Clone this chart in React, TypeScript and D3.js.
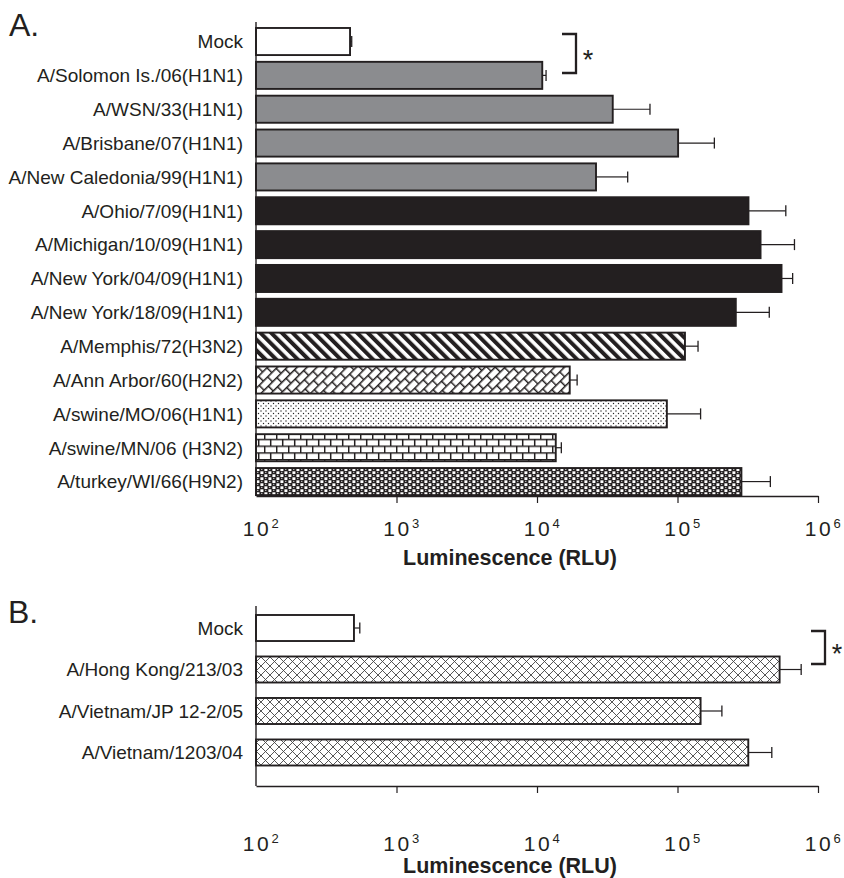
import { useEffect, useRef } from "react";
import * as d3 from "d3";

// Panel A strains and luminescence (RLU)
const strainsA = [
  "Mock",
  "A/Solomon Is./06(H1N1)",
  "A/WSN/33(H1N1)",
  "A/Brisbane/07(H1N1)",
  "A/New Caledonia/99(H1N1)",
  "A/Ohio/7/09(H1N1)",
  "A/Michigan/10/09(H1N1)",
  "A/New York/04/09(H1N1)",
  "A/New York/18/09(H1N1)",
  "A/Memphis/72(H3N2)",
  "A/Ann Arbor/60(H2N2)",
  "A/swine/MO/06(H1N1)",
  "A/swine/MN/06 (H3N2)",
  "A/turkey/WI/66(H9N2)",
];
const meansA = [467, 10900, 34600, 101000, 26300, 320000, 390000, 550000, 260000, 113000, 17100, 84000, 13600, 285000];
const errA = [13, 700, 29100, 82000, 17900, 270000, 290000, 110000, 190000, 27000, 2200, 62000, 1300, 173000];
const groupsA = [
  "mock", "seasonal", "seasonal", "seasonal", "seasonal",
  "pandemic", "pandemic", "pandemic", "pandemic",
  "memphis", "annarbor", "swineMO", "swineMN", "turkey",
];

// Panel B: H5N1 strains
const strainsB = ["Mock", "A/Hong Kong/213/03", "A/Vietnam/JP 12-2/05", "A/Vietnam/1203/04"];
const meansB = [498, 533000, 146000, 319000];
const errB = [50, 226000, 61000, 150000];
const groupsB = ["mock", "h5", "h5", "h5"];

const tickValues = [1e2, 1e3, 1e4, 1e5, 1e6];
const tickExponents = ["2", "3", "4", "5", "6"];
const xTitle = "Luminescence (RLU)";

const INK = "#231f20";
const FONT = "'Liberation Sans', Arial, Helvetica, sans-serif";

const fills: Record<string, string> = {
  mock: "#ffffff",
  seasonal: "#8b8c8f",
  pandemic: INK,
  memphis: "url(#pStripe)",
  annarbor: "url(#pDiagBrick)",
  swineMO: "url(#pDots)",
  swineMN: "url(#pBrick)",
  turkey: "url(#pChecker)",
  h5: "url(#pCross)",
};

const App = () => {
  const svgRef = useRef<SVGSVGElement>(null);
  const width = 844;
  const height = 878;

  useEffect(() => {
    const svg = d3.select(svgRef.current);
    svg.selectAll("*").remove();

    // ---- patterns
    const defs = svg.append("defs");

    const stripe = defs.append("pattern").attr("id", "pStripe")
      .attr("patternUnits", "userSpaceOnUse").attr("width", 7.6).attr("height", 7.6)
      .attr("patternTransform", "rotate(-45)");
    stripe.append("rect").attr("width", 7.6).attr("height", 7.6).attr("fill", "#fff");
    stripe.append("rect").attr("width", 4).attr("height", 7.6).attr("fill", INK);

    const db = defs.append("pattern").attr("id", "pDiagBrick")
      .attr("patternUnits", "userSpaceOnUse").attr("width", 12).attr("height", 14)
      .attr("patternTransform", "rotate(-45)");
    db.append("rect").attr("width", 12).attr("height", 14).attr("fill", "#fff");
    db.append("path")
      .attr("d", "M0,0.7H12M0,7.7H12M0.7,0V7M6.7,7V14")
      .attr("stroke", INK).attr("stroke-width", 1.5).attr("fill", "none");

    const dots = defs.append("pattern").attr("id", "pDots")
      .attr("patternUnits", "userSpaceOnUse").attr("width", 5).attr("height", 5);
    dots.append("rect").attr("width", 5).attr("height", 5).attr("fill", "#fff");
    dots.append("rect").attr("x", 0.4).attr("y", 0.4).attr("width", 1.2).attr("height", 1.2).attr("fill", "#222");
    dots.append("rect").attr("x", 2.9).attr("y", 2.9).attr("width", 1.2).attr("height", 1.2).attr("fill", "#222");

    const brick = defs.append("pattern").attr("id", "pBrick")
      .attr("patternUnits", "userSpaceOnUse").attr("width", 12).attr("height", 13.5);
    brick.append("rect").attr("width", 12).attr("height", 13.5).attr("fill", "#fff");
    brick.append("path")
      .attr("d", "M0,0.7H12M0,7.45H12M0.7,0V6.75M6.7,6.75V13.5")
      .attr("stroke", INK).attr("stroke-width", 1.5).attr("fill", "none");

    const checker = defs.append("pattern").attr("id", "pChecker")
      .attr("patternUnits", "userSpaceOnUse").attr("width", 8).attr("height", 6);
    checker.append("rect").attr("width", 8).attr("height", 6).attr("fill", INK);
    checker.append("rect").attr("x", 0.4).attr("y", 0.3).attr("width", 3).attr("height", 2.7).attr("fill", "#fff");
    checker.append("rect").attr("x", 4.4).attr("y", 3.3).attr("width", 3).attr("height", 2.7).attr("fill", "#fff");
    checker.append("rect").attr("x", 5).attr("y", 0.8).attr("width", 1.4).attr("height", 1.2).attr("fill", "#b0b0b0");
    checker.append("rect").attr("x", 1).attr("y", 3.8).attr("width", 1.4).attr("height", 1.2).attr("fill", "#b0b0b0");

    const cross = defs.append("pattern").attr("id", "pCross")
      .attr("patternUnits", "userSpaceOnUse").attr("width", 9).attr("height", 9);
    cross.append("rect").attr("width", 9).attr("height", 9).attr("fill", "#fff");
    cross.append("path")
      .attr("d", "M0,0L9,9M9,0L0,9")
      .attr("stroke", "#444").attr("stroke-width", 0.9).attr("fill", "none");

    const x = d3.scaleLog().domain([1e2, 1e6]).range([256, 818]);

    const drawPanel = (
      strains: string[], means: number[], errs: number[], groups: string[],
      y: d3.ScaleBand<string>, axisTop: number, axisY: number,
      tickY: number, titleY: number
    ) => {
      const g = svg.append("g");

      // bars
      g.selectAll("rect.bar")
        .data(strains)
        .enter()
        .append("rect")
        .attr("class", "bar")
        .attr("x", x(1e2))
        .attr("y", (d) => y(d) as number)
        .attr("width", (d, i) => x(means[i]) - x(1e2))
        .attr("height", y.bandwidth())
        .attr("fill", (d, i) => fills[groups[i]])
        .attr("stroke", INK)
        .attr("stroke-width", 1.9);

      // error bars (upper side only)
      const eb = g.selectAll("g.err").data(strains).enter().append("g").attr("class", "err");
      eb.append("line")
        .attr("x1", (d, i) => x(means[i]))
        .attr("x2", (d, i) => x(means[i] + errs[i]))
        .attr("y1", (d) => (y(d) as number) + y.bandwidth() / 2)
        .attr("y2", (d) => (y(d) as number) + y.bandwidth() / 2)
        .attr("stroke", INK).attr("stroke-width", 1.2);
      eb.append("line")
        .attr("x1", (d, i) => x(means[i] + errs[i]))
        .attr("x2", (d, i) => x(means[i] + errs[i]))
        .attr("y1", (d) => (y(d) as number) + y.bandwidth() / 2 - 5.5)
        .attr("y2", (d) => (y(d) as number) + y.bandwidth() / 2 + 5.5)
        .attr("stroke", INK).attr("stroke-width", 1.3);

      // category labels
      g.selectAll("text.lab")
        .data(strains)
        .enter()
        .append("text")
        .attr("class", "lab")
        .attr("x", 243)
        .attr("y", (d) => (y(d) as number) + y.bandwidth() / 2)
        .attr("dy", "0.36em")
        .attr("text-anchor", "end")
        .style("font-family", FONT)
        .style("font-size", "19px")
        .style("fill", INK)
        .text((d) => d);

      // y axis line
      g.append("line")
        .attr("x1", x(1e2)).attr("x2", x(1e2))
        .attr("y1", axisTop).attr("y2", axisY)
        .attr("stroke", INK).attr("stroke-width", 1.4);

      // x axis
      const xAxis = d3.axisBottom(x)
        .tickValues(tickValues.slice(1))
        .tickSize(7)
        .tickSizeOuter(0)
        .tickFormat(() => "");
      const ax = g.append("g").attr("transform", `translate(0, ${axisY})`).call(xAxis);
      ax.select(".domain").attr("stroke", INK).attr("stroke-width", 1.4);
      ax.selectAll(".tick line").attr("stroke", INK).attr("stroke-width", 1.2);

      // tick labels 10^n
      const tl = g.selectAll("g.tl").data(tickValues).enter().append("g").attr("class", "tl");
      tl.append("text")
        .attr("x", (d) => x(d) + 1)
        .attr("y", tickY)
        .attr("text-anchor", "middle")
        .style("font-family", FONT)
        .style("font-size", "21px")
        .style("letter-spacing", "2.5px")
        .style("fill", INK)
        .text("10");
      tl.append("text")
        .attr("x", (d) => x(d) + 15.5)
        .attr("y", tickY - 8)
        .style("font-family", FONT)
        .style("font-size", "13px")
        .style("fill", INK)
        .text((d, i) => tickExponents[i]);

      // x axis title
      g.append("text")
        .attr("x", 510)
        .attr("y", titleY)
        .attr("text-anchor", "middle")
        .style("font-family", FONT)
        .style("font-size", "21.5px")
        .style("font-weight", "bold")
        .style("fill", INK)
        .text(xTitle);
    };

    const yA = d3.scaleBand<string>().domain(strainsA).range([24.6, 498.5]).paddingInner(0.2).paddingOuter(0.1);
    drawPanel(strainsA, meansA, errA, groupsA, yA, 22, 496, 536, 565);

    const yB = d3.scaleBand<string>().domain(strainsB).range([606.7, 773.8]).paddingInner(0.373).paddingOuter(0.2);
    drawPanel(strainsB, meansB, errB, groupsB, yB, 606, 786, 851, 873);

    // panel letters
    svg.append("text").attr("x", 9).attr("y", 36)
      .style("font-family", FONT).style("font-size", "32px").style("fill", INK).text("A.");
    svg.append("text").attr("x", 8).attr("y", 623)
      .style("font-family", FONT).style("font-size", "32px").style("fill", INK).text("B.");

    // significance brackets
    const bracket = (x0: number, x1: number, y0: number, y1: number) => {
      svg.append("path")
        .attr("d", `M${x0},${y0}H${x1}V${y1}H${x0}`)
        .attr("fill", "none").attr("stroke", INK).attr("stroke-width", 2.3);
      svg.append("text")
        .attr("x", x1 + 12).attr("y", (y0 + y1) / 2 + 15)
        .attr("text-anchor", "middle")
        .style("font-family", FONT).style("font-size", "27px").style("fill", INK)
        .text("*");
    };
    bracket(562, 576, 34, 73);
    bracket(811, 825, 631, 664);
  }, []);

  return (
    <svg
      ref={svgRef}
      width={width}
      height={height}
      viewBox={`0 0 ${width} ${height}`}
      style={{ position: "absolute", left: 0, top: 0, background: "#fff" }}
    ></svg>
  );
};

export default App;
